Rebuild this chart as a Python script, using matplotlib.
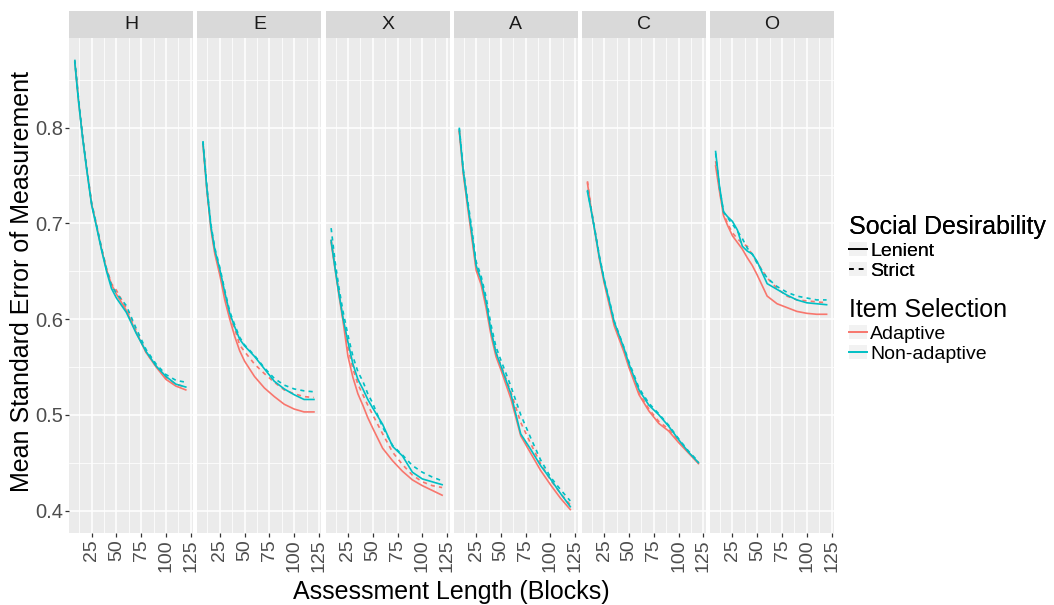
import matplotlib.pyplot as plt
from matplotlib.lines import Line2D
from matplotlib.patches import Patch, Rectangle

plt.rcParams['font.family'] = ['Liberation Sans', 'DejaVu Sans']

blocks = [8, 12, 16, 20, 25, 30, 35, 40, 45, 50, 60, 70, 80, 90, 100, 110, 120]
traits = ['H', 'E', 'X', 'A', 'C', 'O']

# A = adaptive, N = non-adaptive; L = lenient, S = strict
H_AL = [0.869, 0.826, 0.789, 0.757, 0.720, 0.697, 0.673, 0.652, 0.636, 0.626, 0.609, 0.586, 0.565, 0.550, 0.537, 0.530, 0.526]
H_AS = [0.870, 0.827, 0.790, 0.758, 0.721, 0.698, 0.674, 0.653, 0.637, 0.630, 0.611, 0.588, 0.565, 0.551, 0.539, 0.532, 0.529]
H_NL = [0.868, 0.825, 0.788, 0.756, 0.719, 0.696, 0.672, 0.650, 0.632, 0.622, 0.607, 0.585, 0.566, 0.551, 0.540, 0.532, 0.529]
H_NS = [0.871, 0.828, 0.790, 0.758, 0.721, 0.698, 0.674, 0.652, 0.635, 0.627, 0.614, 0.590, 0.568, 0.553, 0.542, 0.536, 0.534]

E_AL = [0.783, 0.734, 0.694, 0.668, 0.646, 0.620, 0.600, 0.582, 0.567, 0.556, 0.540, 0.528, 0.519, 0.511, 0.506, 0.503, 0.503]
E_AS = [0.784, 0.735, 0.696, 0.670, 0.650, 0.625, 0.603, 0.590, 0.573, 0.566, 0.553, 0.543, 0.534, 0.526, 0.522, 0.519, 0.518]
E_NL = [0.784, 0.736, 0.697, 0.672, 0.652, 0.628, 0.606, 0.592, 0.579, 0.572, 0.561, 0.548, 0.535, 0.527, 0.521, 0.516, 0.516]
E_NS = [0.786, 0.738, 0.699, 0.674, 0.654, 0.630, 0.608, 0.594, 0.581, 0.573, 0.562, 0.549, 0.538, 0.531, 0.527, 0.525, 0.524]

X_AL = [0.680, 0.652, 0.624, 0.598, 0.561, 0.539, 0.522, 0.510, 0.497, 0.486, 0.465, 0.452, 0.441, 0.432, 0.426, 0.421, 0.416]
X_AS = [0.683, 0.654, 0.627, 0.600, 0.570, 0.548, 0.532, 0.521, 0.510, 0.500, 0.480, 0.461, 0.448, 0.437, 0.430, 0.426, 0.424]
X_NL = [0.682, 0.653, 0.626, 0.601, 0.576, 0.553, 0.537, 0.527, 0.516, 0.507, 0.490, 0.467, 0.457, 0.440, 0.433, 0.430, 0.427]
X_NS = [0.695, 0.660, 0.632, 0.608, 0.583, 0.561, 0.545, 0.535, 0.522, 0.512, 0.487, 0.468, 0.458, 0.447, 0.440, 0.435, 0.431]

A_AL = [0.796, 0.752, 0.720, 0.690, 0.651, 0.636, 0.612, 0.583, 0.561, 0.547, 0.517, 0.478, 0.460, 0.442, 0.427, 0.413, 0.401]
A_AS = [0.797, 0.754, 0.723, 0.693, 0.654, 0.639, 0.616, 0.587, 0.565, 0.552, 0.524, 0.492, 0.470, 0.449, 0.432, 0.418, 0.406]
A_NL = [0.798, 0.755, 0.724, 0.695, 0.656, 0.641, 0.618, 0.588, 0.565, 0.551, 0.522, 0.480, 0.464, 0.447, 0.433, 0.418, 0.404]
A_NS = [0.800, 0.757, 0.727, 0.699, 0.660, 0.645, 0.623, 0.594, 0.571, 0.557, 0.530, 0.500, 0.476, 0.453, 0.435, 0.422, 0.410]

C_AL = [0.742, 0.713, 0.688, 0.663, 0.637, 0.615, 0.593, 0.579, 0.565, 0.549, 0.521, 0.504, 0.491, 0.483, 0.471, 0.460, 0.449]
C_AS = [0.744, 0.714, 0.690, 0.665, 0.639, 0.617, 0.595, 0.581, 0.567, 0.551, 0.523, 0.506, 0.493, 0.485, 0.472, 0.461, 0.450]
C_NL = [0.733, 0.712, 0.689, 0.665, 0.640, 0.619, 0.597, 0.583, 0.569, 0.553, 0.526, 0.510, 0.500, 0.488, 0.474, 0.461, 0.450]
C_NS = [0.735, 0.713, 0.690, 0.666, 0.641, 0.620, 0.598, 0.584, 0.570, 0.555, 0.528, 0.512, 0.501, 0.489, 0.475, 0.462, 0.451]

O_AL = [0.760, 0.733, 0.708, 0.698, 0.687, 0.680, 0.673, 0.664, 0.656, 0.646, 0.624, 0.616, 0.612, 0.608, 0.606, 0.605, 0.605]
O_AS = [0.765, 0.735, 0.710, 0.700, 0.690, 0.684, 0.679, 0.676, 0.667, 0.659, 0.643, 0.632, 0.624, 0.620, 0.619, 0.618, 0.617]
O_NL = [0.775, 0.738, 0.712, 0.707, 0.702, 0.693, 0.676, 0.671, 0.668, 0.660, 0.637, 0.631, 0.625, 0.620, 0.617, 0.616, 0.615]
O_NS = [0.773, 0.737, 0.712, 0.706, 0.699, 0.692, 0.684, 0.674, 0.668, 0.658, 0.643, 0.634, 0.628, 0.624, 0.622, 0.620, 0.620]

series = {
    'H': [H_AL, H_AS, H_NL, H_NS],
    'E': [E_AL, E_AS, E_NL, E_NS],
    'X': [X_AL, X_AS, X_NL, X_NS],
    'A': [A_AL, A_AS, A_NL, A_NS],
    'C': [C_AL, C_AS, C_NL, C_NS],
    'O': [O_AL, O_AS, O_NL, O_NS],
}
red = '#F8766D'
cyan = '#00BFC4'
dash = (0, (2.5, 2.5))
styles = [(red, '-'), (red, dash), (cyan, '-'), (cyan, dash)]

fig = plt.figure(figsize=(10.54, 6.05), dpi=100)
axes = fig.subplots(1, 6, sharey=True, gridspec_kw=dict(wspace=0.033))
fig.subplots_adjust(left=0.0657, right=0.7914, top=0.937, bottom=0.119)

for i, (ax, t) in enumerate(zip(axes, traits)):
    ax.set_facecolor('#EBEBEB')
    for s in ax.spines.values():
        s.set_visible(False)
    ax.set_xlim(2.4, 127.6)
    ax.set_ylim(0.3765, 0.8935)
    ax.set_xticks([25, 50, 75, 100, 125])
    ax.set_xticks([12.5, 37.5, 62.5, 87.5, 112.5], minor=True)
    ax.set_yticks([0.4, 0.5, 0.6, 0.7, 0.8])
    ax.set_yticks([0.45, 0.55, 0.65, 0.75, 0.85], minor=True)
    ax.grid(which='major', color='white', lw=1.1)
    ax.grid(which='minor', color='white', lw=0.55)
    ax.set_axisbelow(True)
    ax.tick_params(which='minor', length=0)
    ax.tick_params(axis='x', labelrotation=90, length=2.8, width=0.9, color='#333333',
                   labelcolor='#4D4D4D', labelsize=14, pad=2)
    ax.tick_params(axis='y', length=2.8, width=0.9, color='#333333',
                   labelcolor='#4D4D4D', labelsize=14.5, pad=1.5, left=(i == 0))
    for vals, (c, ls) in zip(series[t], styles):
        ax.plot(blocks, vals, color=c, ls=ls, lw=1.2)
    ax.add_patch(Rectangle((0, 1), 1, 27 / 495, transform=ax.transAxes,
                           facecolor='#D9D9D9', edgecolor='none', clip_on=False))
    ax.text(0.5, 1 + 13.5 / 495, t, transform=ax.transAxes, ha='center', va='center',
            fontsize=14, color='#1A1A1A')

fig.text(0.428, 0.022, 'Assessment Length (Blocks)', ha='center', va='center', fontsize=18)
fig.text(0.021, 0.535, 'Mean Standard Error of Measurement', ha='center', va='center',
         rotation=90, fontsize=18)

key_bg = Patch(facecolor='#F2F2F2', edgecolor='none')
sd_handles = [(key_bg, Line2D([], [], color='black', lw=1.4)),
              (key_bg, Line2D([], [], color='black', lw=1.4, ls=dash))]
leg1 = fig.legend(sd_handles, ['Lenient', 'Strict'], title='Social Desirability',
                  loc='upper left', bbox_to_anchor=(849 / 1054, 1 - 215 / 605),
                  frameon=False, fontsize=14, title_fontsize=18, alignment='left',
                  handlelength=0.95, handletextpad=0.15, labelspacing=0.15,
                  borderpad=0, borderaxespad=0)
is_handles = [(key_bg, Line2D([], [], color=red, lw=1.4)),
              (key_bg, Line2D([], [], color=cyan, lw=1.4))]
fig.legend(is_handles, ['Adaptive', 'Non-adaptive'], title='Item Selection',
           loc='upper left', bbox_to_anchor=(849 / 1054, 1 - 298 / 605),
           frameon=False, fontsize=14, title_fontsize=18, alignment='left',
           handlelength=0.95, handletextpad=0.15, labelspacing=0.15,
           borderpad=0, borderaxespad=0)
fig.add_artist(leg1)

fig.savefig('out.png', dpi=100)
